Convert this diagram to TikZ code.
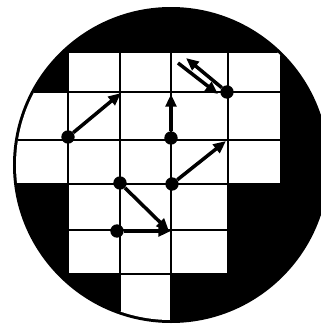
\documentclass[tikz,border=0pt]{standalone}
\usetikzlibrary{arrows.meta,positioning}

\begin{document}
\begin{tikzpicture}[x=0.3mm,y=-0.3mm,
  cell/.style={draw=black,line width=1.1pt,fill=white},
  dot/.style={circle,fill=black,inner sep=0pt,minimum size=4mm},
  move/.style={line width=3pt,-{Triangle[length=3.8mm,width=3.2mm]}}]
  \useasboundingbox (0,0) rectangle (321,324);
  % black disc
  \fill[black] (171,165) circle[radius=158];
  % white cells of the board, cut off by the disc
  \begin{scope}
    \clip (171,165) circle[radius=155];
    \foreach \xl/\xr/\yt/\yb in {
      68/120/52/92, 120/171/52/92, 171/228/52/92, 228/281/52/92,
      0/68/92/140, 68/120/92/140, 120/171/92/140, 171/228/92/140, 228/281/92/140,
      0/68/140/184, 68/120/140/184, 120/171/140/184, 171/228/140/184, 228/281/140/184,
      68/120/184/230, 120/171/184/230, 171/228/184/230,
      68/120/230/274, 120/171/230/274, 171/228/230/274,
      120/171/274/340}
      \draw[cell] (\xl,\yt) rectangle (\xr,\yb);
  \end{scope}
  % moves
  \node[dot] (p1) at (68,137) {};
  \node[dot] (p2) at (171,138) {};
  \node[dot] (p3) at (172,184) {};
  \node[dot] (p4) at (120,183) {};
  \node[dot] (p5) at (117,231) {};
  \node[dot] (p6) at (227,92) {};
  \coordinate (q1) at (121,93);
  \coordinate (q2) at (171,94);
  \coordinate (q3) at (226,141);
  \coordinate (q4) at (169,231);
  \coordinate (q5) at (171,231);
  \coordinate (q6) at (186,58);
  \coordinate (r6) at (178,63);
  \coordinate (s6) at (218,94);
  \draw[move] (p1) -- (q1);
  \draw[move] (p2) -- (q2);
  \draw[move] (p3) -- (q3);
  \draw[move] (p4) -- (q4);
  \draw[move] (p5) -- (q5);
  \draw[move] (p6) -- (q6);
  \draw[move] (r6) -- (s6);
\end{tikzpicture}
\end{document}
